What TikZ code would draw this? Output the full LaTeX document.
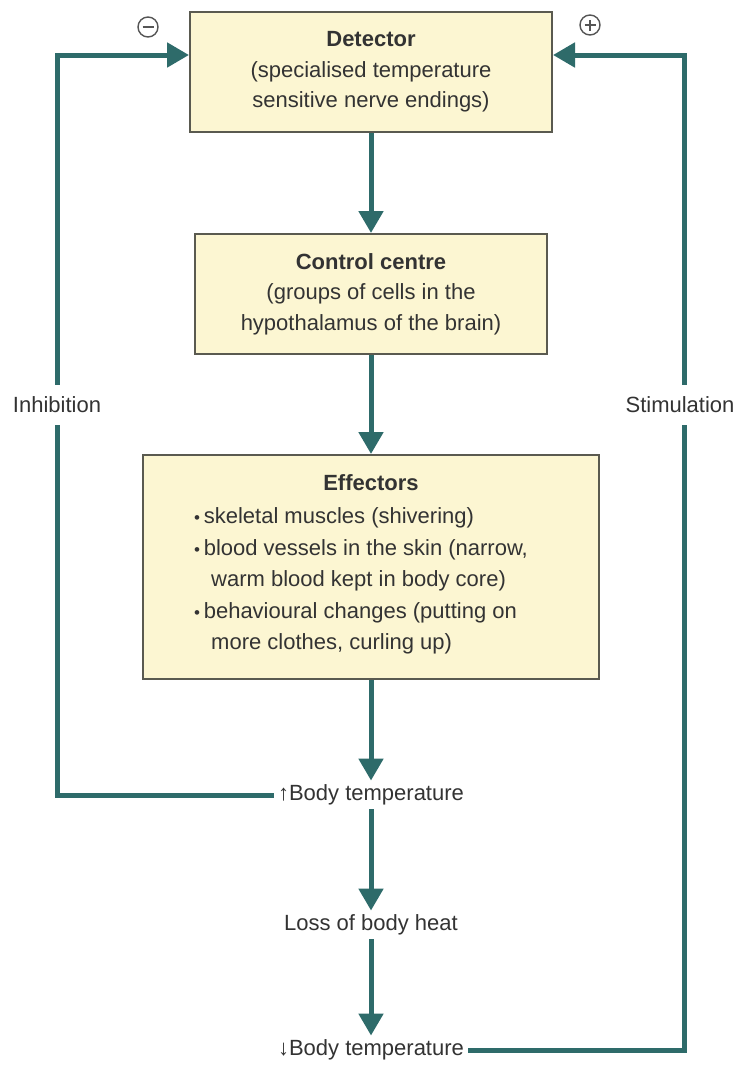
\documentclass[tikz,border=0pt]{standalone}
\usepackage{fontspec}
\setmainfont{Liberation Sans}
\usetikzlibrary{arrows.meta}
\definecolor{tealc}{HTML}{2E6B6A}
\definecolor{boxfill}{HTML}{FCF6D2}
\definecolor{boxline}{HTML}{5A5A50}
\definecolor{txtc}{HTML}{333333}
\definecolor{signc}{HTML}{555555}
\begin{document}
\begin{tikzpicture}[x=1pt,y=-1pt,
  box/.style={draw=boxline, line width=2pt, fill=boxfill, rectangle, inner sep=0pt},
  txt/.style={text=txtc, font=\fontsize{22}{30.5}\selectfont, inner sep=0pt, align=center},
  flow/.style={txt, inner sep=4pt},
  conn/.style={draw=tealc, line width=5pt},
  arr/.style={conn, -{Triangle[width=24pt,length=22pt]}},
  lab/.style={txt, fill=white, inner xsep=2pt, inner ysep=12pt},
  sign/.style={circle, draw=signc, line width=1.4pt, minimum size=20pt, inner sep=0pt},
]
\useasboundingbox[fill=white] (0,0) rectangle (740,1068);

% boxes
\node[box, minimum width=362pt, minimum height=120pt] (det) at (371,72) {};
\node[txt] (dett) at (371,72) {\textbf{Detector}\\(specialised temperature\\sensitive nerve endings)};

\node[box, minimum width=352pt, minimum height=120pt] (ctl) at (371,294) {};
\node[txt] (ctlt) at (371,294) {\textbf{Control centre}\\(groups of cells in the\\hypothalamus of the brain)};

\node[box, minimum width=456pt, minimum height=224pt] (eff) at (371,567) {};
\node[txt] (efft) at (371,483) {\textbf{Effectors}};
\node[txt, align=left, anchor=west, font=\fontsize{22}{31.5}\selectfont] (effl) at (194,581)
  {{\fontsize{17}{17}\selectfont\textbullet}\,skeletal muscles (shivering)\\
   {\fontsize{17}{17}\selectfont\textbullet}\,blood vessels in the skin (narrow,\\
   \hspace*{17pt}warm blood kept in body core)\\
   {\fontsize{17}{17}\selectfont\textbullet}\,behavioural changes (putting on\\
   \hspace*{17pt}more clothes, curling up)};

% plain text steps
\node[flow] (bt1) at (371,795) {↑Body temperature};
\node[flow] (loss) at (371,925) {Loss of body heat};
\node[flow] (bt2) at (371,1050) {↓Body temperature};

% main flow
\draw[arr] (det.south) -- (ctl.north);
\draw[arr] (ctl.south) -- (eff.north);
\draw[arr] (eff.south) -- (bt1.north);
\draw[arr] (bt1.south) -- (loss.north);
\draw[arr] (loss.south) -- (bt2.north);

% feedback loops
\coordinate (LT) at (57,55);
\coordinate (RT) at (684,55);
\draw[arr] (bt1.west) -| (LT) -- (det.west |- LT);
\draw[arr] (bt2.east) -| (RT) -- (det.east |- RT);

\node[lab] (inh) at (57,405) {Inhibition};
\node[lab] (stim) at (680,405) {Stimulation};

% signs
\node[sign] (minus) at (148,27) {};
\draw[signc, line width=1.4pt] ([xshift=-5.5pt]minus.center) -- ([xshift=5.5pt]minus.center);
\node[sign] (plus) at (590,25) {};
\draw[signc, line width=1.4pt] ([xshift=-5.5pt]plus.center) -- ([xshift=5.5pt]plus.center);
\draw[signc, line width=1.4pt] ([yshift=-5.5pt]plus.center) -- ([yshift=5.5pt]plus.center);
\end{tikzpicture}
\end{document}
